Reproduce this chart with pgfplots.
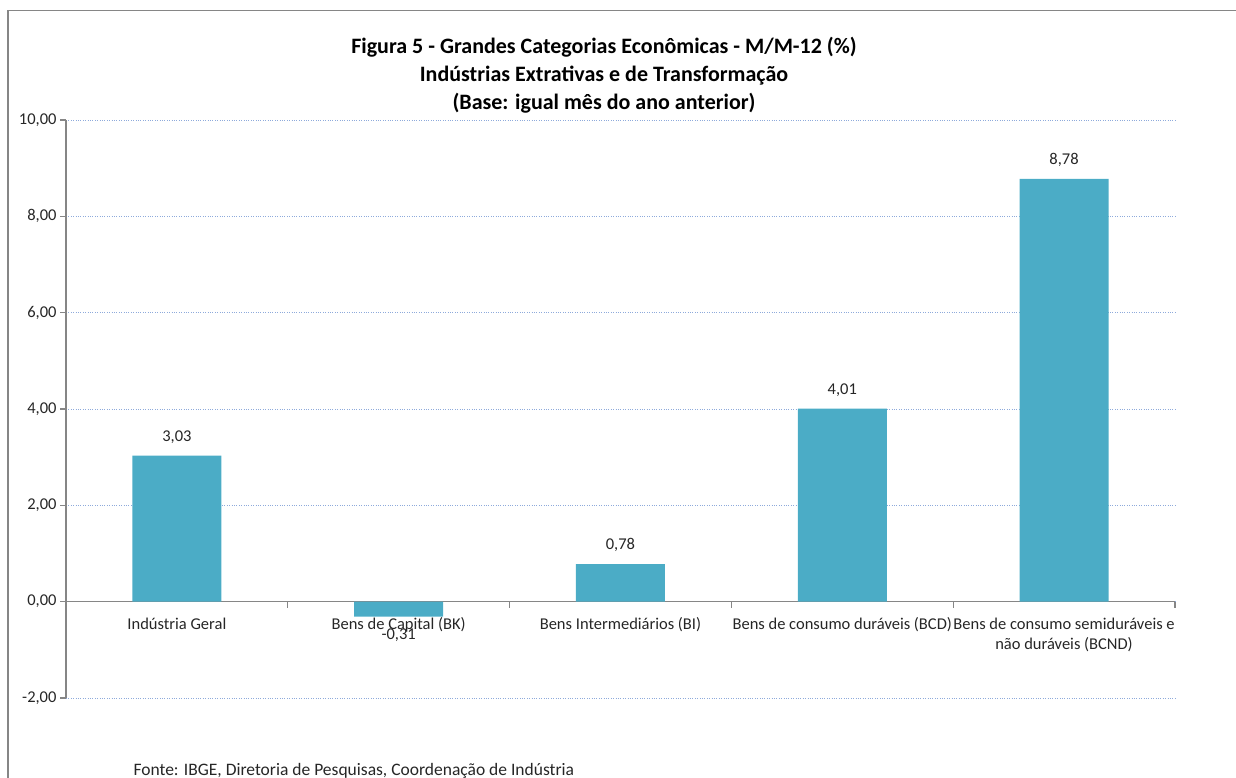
\documentclass[border=0pt]{standalone}
\usepackage{pgfplots}
\pgfplotsset{compat=1.18}
\usepackage{fontspec}
\setmainfont{Carlito}
\definecolor{barblue}{HTML}{4BACC6}
\definecolor{axisgray}{HTML}{868686}
\definecolor{gridblue}{HTML}{8EAADB}
\begin{document}
\begin{tikzpicture}
\path[use as bounding box] (0,0) rectangle (1236pt,778pt);
\draw[axisgray, line width=1.3pt] (8pt,-2pt) -- (8pt,767.5pt) -- (1240pt,767.5pt);
\node[align=center, font=\fontsize{22}{28}\selectfont\bfseries] at (604pt,703pt)
  {Figura 5 - Grandes Categorias Econômicas - M/M-12 (\%)\\
   Indústrias Extrativas e de Transformação\\
   (Base: igual mês do ano anterior)};
\begin{axis}[
  at={(66pt,80pt)}, anchor=south west,
  scale only axis, width=1109pt, height=578pt,
  ybar, bar width=89pt,
  xmin=-0.5, xmax=4.5, ymin=-2, ymax=10,
  axis y line=left, axis x line=middle,
  axis line style={-, draw=axisgray, line width=1.3pt},
  hide obscured x ticks=false, hide obscured y ticks=false,
  ytick={-2,0,2,4,6,8,10},
  xtick={0,1,2,3,4},
  xticklabels={Indústria Geral, Bens de Capital (BK), Bens Intermediários (BI),
    Bens de consumo duráveis (BCD), {Bens de consumo semiduráveis e\\não duráveis (BCND)}},
  minor xtick={-0.5,0.5,1.5,2.5,3.5,4.5},
  tick align=outside,
  major tick length=6pt, minor tick length=6pt,
  major x tick style={draw=none},
  tick style={axisgray, line width=1.3pt},
  ymajorgrids,
  major grid style={dotted, gridblue, line width=0.8pt},
  tick label style={font=\fontsize{16.5}{20}\selectfont, text=black!85},
  xticklabel style={align=center, inner ysep=10pt},
  yticklabel style={/pgf/number format/.cd, fixed, fixed zerofill, precision=2, use comma, assume math mode=true},
  nodes near coords,
  nodes near coords style={font=\fontsize{16.5}{20}\selectfont, text=black!85, inner ysep=12pt,
    /pgf/number format/.cd, fixed, fixed zerofill, precision=2, use comma, assume math mode=true},
]
\addplot[fill=barblue, draw=none] coordinates {(0,3.03) (1,-0.31) (2,0.78) (3,4.01) (4,8.78)};
\end{axis}
\node[anchor=base west, font=\fontsize{17.5}{21}\selectfont, text=black!85] at (130pt,2pt)
  {Fonte: IBGE, Diretoria de Pesquisas, Coordenação de Indústria};
\end{tikzpicture}
\end{document}
